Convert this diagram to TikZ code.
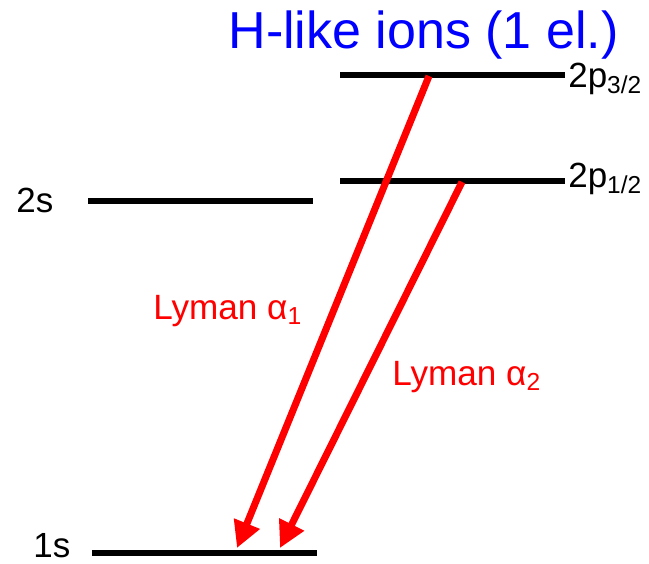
\documentclass[tikz,border=0pt]{standalone}
\usepackage{fontspec}
\setmainfont{Liberation Sans}
\usetikzlibrary{arrows.meta}
\definecolor{lineRed}{HTML}{FF0000}
\definecolor{titleBlue}{HTML}{0000FF}

\begin{document}
\begin{tikzpicture}[x=0.02cm, y=-0.02cm,
    level/.style={rectangle, fill=black, inner sep=0pt, minimum width=4.5cm, minimum height=0.13cm},
    levellabel/.style={anchor=base west, inner sep=0pt, font=\fontsize{19.9}{22}\selectfont},
    lymanlabel/.style={anchor=base west, inner sep=0pt, text=lineRed, font=\fontsize{20}{22}\selectfont},
    transition/.style={-{Triangle[length=15pt, width=15pt]}, line width=4pt, lineRed}]
  \useasboundingbox (0,0) rectangle (649,564);
  % title
  \node[anchor=base east, inner sep=0pt, text=titleBlue, font=\fontsize{29.6}{32}\selectfont] (title) at (619,49) {H-like ions (1 el.)};
  % levels
  \node[level] (lvl2p3) at (452.5,75) {};
  \node[level] (lvl2p1) at (452.5,181) {};
  \node[level] (lvl2s) at (200.5,201) {};
  \node[level] (lvl1s) at (204.5,553) {};
  \node[levellabel] (lab2p3) at (568,88) {2p\textsubscript{3/2}};
  \node[levellabel] (lab2p1) at (568,188) {2p\textsubscript{1/2}};
  \node[levellabel] (lab2s) at (16,213) {2s};
  \node[levellabel] (lab1s) at (33,557) {1s};
  % transitions
  \coordinate (alphaOneTop) at (429,76);
  \coordinate (alphaTwoTop) at (462,182);
  \coordinate (alphaOneEnd) at (237,548);
  \coordinate (alphaTwoEnd) at (280,548);
  \draw[transition] (alphaOneTop) -- (alphaOneEnd);
  \draw[transition] (alphaTwoTop) -- (alphaTwoEnd);
  \node[lymanlabel] (labAlphaOne) at (153,319) {Lyman α\textsubscript{1}};
  \node[lymanlabel] (labAlphaTwo) at (392,385) {Lyman α\textsubscript{2}};
\end{tikzpicture}
\end{document}
